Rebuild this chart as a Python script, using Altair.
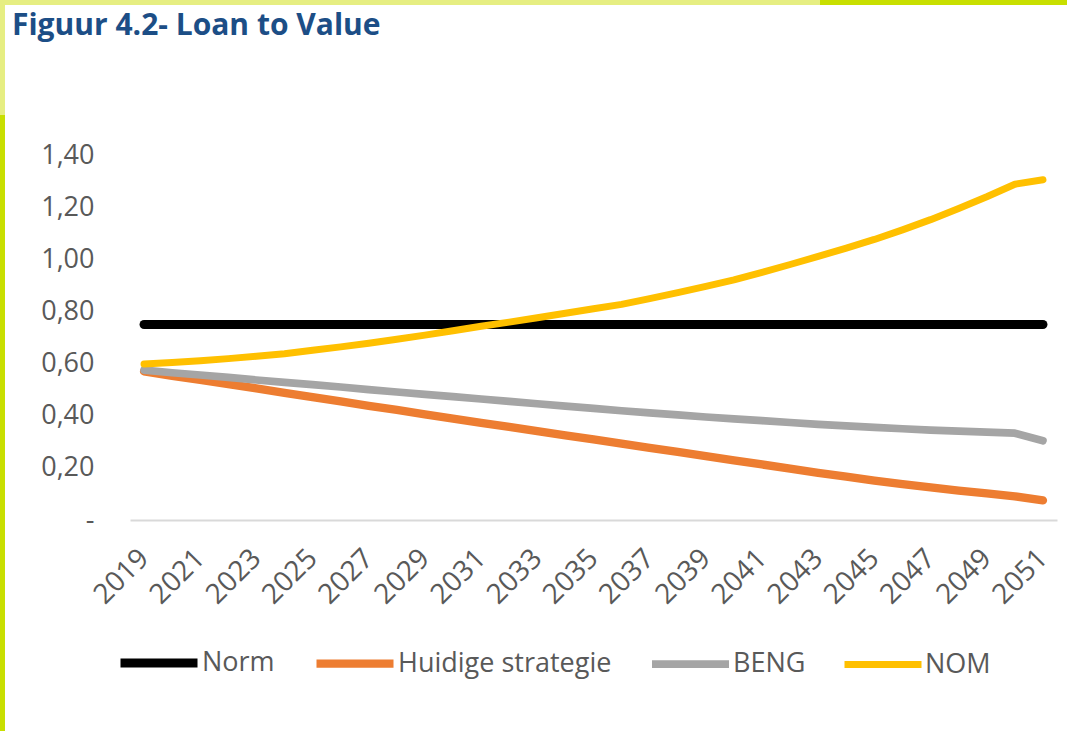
import altair as alt
import pandas as pd

years = list(range(2019, 2052))
norm = [0.75, 0.75, 0.75, 0.75, 0.75, 0.75, 0.75, 0.75, 0.75, 0.75, 0.75,
        0.75, 0.75, 0.75, 0.75, 0.75, 0.75, 0.75, 0.75, 0.75, 0.75, 0.75,
        0.75, 0.75, 0.75, 0.75, 0.75, 0.75, 0.75, 0.75, 0.75, 0.75, 0.75]
huidige = [0.570, 0.553, 0.537, 0.521, 0.505, 0.488, 0.471, 0.455, 0.438, 0.422, 0.405,
           0.389, 0.373, 0.357, 0.341, 0.325, 0.309, 0.293, 0.277, 0.261, 0.245, 0.229,
           0.213, 0.197, 0.181, 0.166, 0.151, 0.138, 0.125, 0.113, 0.102, 0.091, 0.075]
beng = [0.575, 0.565, 0.556, 0.547, 0.537, 0.528, 0.519, 0.510, 0.500, 0.491, 0.482,
        0.473, 0.464, 0.455, 0.446, 0.437, 0.428, 0.419, 0.411, 0.403, 0.395, 0.388,
        0.381, 0.374, 0.367, 0.361, 0.355, 0.350, 0.345, 0.341, 0.337, 0.333, 0.304]
nom = [0.598, 0.604, 0.611, 0.619, 0.628, 0.638, 0.651, 0.664, 0.678, 0.693, 0.709,
       0.726, 0.743, 0.759, 0.776, 0.793, 0.810, 0.827, 0.849, 0.872, 0.896, 0.921,
       0.950, 0.980, 1.011, 1.043, 1.076, 1.113, 1.152, 1.195, 1.240, 1.288, 1.305]

series_names = ["Norm", "Huidige strategie", "BENG", "NOM"]
series_colors = ["#000000", "#ED7D31", "#A5A5A5", "#FFC000"]
x_ticks = [2019, 2021, 2023, 2025, 2027, 2029, 2031, 2033, 2035, 2037, 2039,
           2041, 2043, 2045, 2047, 2049, 2051]
y_ticks = [0, 0.2, 0.4, 0.6, 0.8, 1.0, 1.2, 1.4]

rows = []
for name, vals in zip(series_names, [norm, huidige, beng, nom]):
    for y, v in zip(years, vals):
        rows.append({"Jaar": y, "Waarde": v, "Serie": name})
df = pd.DataFrame(rows)

FONT = "Open Sans"
LABEL_COLOR = "#595959"
FS = 27

lines = alt.Chart(df).mark_line(strokeCap="round", strokeJoin="round").encode(
    x=alt.X("Jaar:Q",
            scale=alt.Scale(domain=[2018.5, 2051.5], nice=False, zero=False),
            axis=alt.Axis(values=x_ticks, format="d", title=None, grid=False, ticks=False,
                          domainColor="#D9D9D9", domainWidth=2,
                          labelAngle=-45, labelAlign="right", labelBaseline="middle",
                          labelPadding=34, labelFontSize=28, labelFont=FONT,
                          labelColor=LABEL_COLOR, labelOverlap=False)),
    y=alt.Y("Waarde:Q",
            scale=alt.Scale(domain=[0, 1.4], nice=False),
            axis=alt.Axis(values=y_ticks, title=None, grid=False, ticks=False, domain=False,
                          labelExpr="datum.value == 0 ? '-' : replace(format(datum.value, '.2f'), '.', ',')",
                          labelPadding=36, labelFontSize=FS, labelFont=FONT,
                          labelColor=LABEL_COLOR)),
    color=alt.Color("Serie:N",
                    scale=alt.Scale(domain=series_names, range=series_colors),
                    sort=series_names,
                    legend=alt.Legend(title=None, orient="none", direction="horizontal",
                                      legendX=-14, legendY=465,
                                      symbolType="stroke", symbolSize=5929,
                                      symbolStrokeWidth=8, labelOffset=0,
                                      columnPadding=24, labelFontSize=FS, labelLimit=0,
                                      labelFont=FONT, labelColor=LABEL_COLOR)),
    strokeWidth=alt.StrokeWidth("Serie:N",
                                scale=alt.Scale(domain=series_names, range=[9, 7, 7, 7]),
                                legend=None),
)

one = pd.DataFrame({"a": [0]})
border_top_l = alt.Chart(one).mark_rect().encode(
    x=alt.value(-130), x2=alt.value(690), y=alt.value(-155), y2=alt.value(-150),
    color=alt.value("#E6EE82"))
border_top = alt.Chart(one).mark_rect().encode(
    x=alt.value(690), x2=alt.value(937), y=alt.value(-155), y2=alt.value(-150),
    color=alt.value("#C8DF00"))
border_left_l = alt.Chart(one).mark_rect().encode(
    x=alt.value(-130), x2=alt.value(-125), y=alt.value(-155), y2=alt.value(-40),
    color=alt.value("#E6EE82"))
border_left = alt.Chart(one).mark_rect().encode(
    x=alt.value(-130), x2=alt.value(-125), y=alt.value(-40), y2=alt.value(576),
    color=alt.value("#C8DF00"))

chart = alt.layer(border_top_l, border_top, border_left_l, border_left, lines).properties(
    width=927, height=365,
    padding={"left": 130, "top": 155, "right": 10, "bottom": 211},
    autosize=alt.AutoSizeParams(type="none"),
    background="white",
    title=alt.TitleParams("Figuur 4.2- Loan to Value", anchor="start", frame="group",
                          dx=-118, dy=65, offset=0, baseline="alphabetic",
                          font=FONT, fontSize=30, fontWeight="bold", color="#1C4E86"),
).configure_view(strokeWidth=0)

chart.save("out.html", embed_options={"renderer": "svg", "actions": False})
